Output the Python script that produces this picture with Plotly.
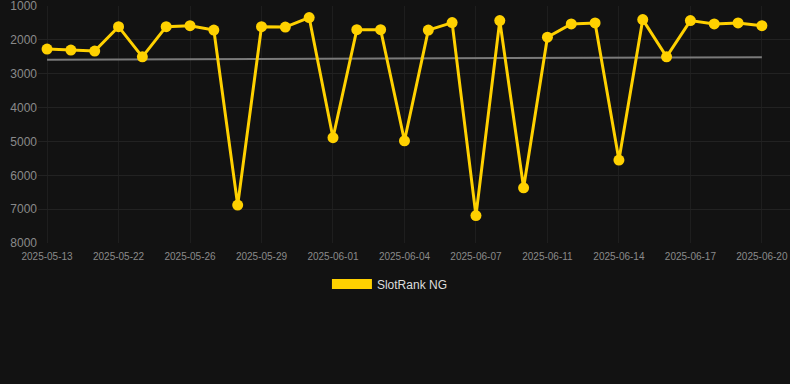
import plotly.graph_objects as go

dates = [
    "2025-05-13", "2025-05-16", "2025-05-19", "2025-05-22", "2025-05-23", "2025-05-24",
    "2025-05-26", "2025-05-27", "2025-05-28", "2025-05-29", "2025-05-30", "2025-05-31",
    "2025-06-01", "2025-06-02", "2025-06-03", "2025-06-04", "2025-06-05", "2025-06-06",
    "2025-06-07", "2025-06-09", "2025-06-10", "2025-06-11", "2025-06-12", "2025-06-13",
    "2025-06-14", "2025-06-15", "2025-06-16", "2025-06-17", "2025-06-18", "2025-06-19",
    "2025-06-20",
]
rank = [
    2270, 2300, 2330, 1610, 2500, 1610, 1580, 1710, 6880, 1610, 1620, 1340,
    4890, 1700, 1700, 4980, 1710, 1490, 7190, 1430, 6370, 1920, 1530, 1500,
    5550, 1400, 2500, 1430, 1530, 1500, 1580,
]
trend_x = [dates[0], dates[-1]]
trend_y = [2590, 2510]
tick_labels = dates[::3]
y_ticks = [1000, 2000, 3000, 4000, 5000, 6000, 7000, 8000]

gold = "#FFD100"
bg = "#121212"

fig = go.Figure()
fig.add_trace(go.Scatter(
    x=trend_x, y=trend_y, mode="lines",
    line=dict(color="#7a7a7a", width=2),
    showlegend=False, hoverinfo="skip",
))
fig.add_trace(go.Scatter(
    x=dates, y=rank, mode="lines+markers",
    line=dict(color=gold, width=3),
    marker=dict(color=gold, size=11),
    showlegend=False, name="SlotRank NG",
))
fig.add_trace(go.Scatter(
    x=[None], y=[None], mode="lines",
    line=dict(color=gold, width=10),
    name="SlotRank NG", showlegend=True,
))

fig.update_layout(
    width=790, height=384,
    paper_bgcolor=bg, plot_bgcolor=bg,
    margin=dict(l=38, r=0, t=6, b=141, autoexpand=False),
    font=dict(family="Liberation Sans, Arial, sans-serif", color="#8a8a8a"),
    xaxis=dict(
        type="category", categoryorder="array", categoryarray=dates,
        range=[-0.38, 31.18],
        tickmode="array", tickvals=tick_labels, ticktext=tick_labels,
        showgrid=True, gridcolor="#1e1e1e", gridwidth=1,
        zeroline=False, showline=False, ticks="",
        ticklabelstandoff=6,
        tickfont=dict(size=10, color="#8a8a8a"),
    ),
    yaxis=dict(
        range=[8000, 999], tickvals=y_ticks,
        showgrid=True, gridcolor="#222222", gridwidth=1,
        zeroline=False, showline=False, ticks="",
        ticklabeloverflow="allow",
        tickfont=dict(size=12, color="#8a8a8a"),
    ),
    legend=dict(
        orientation="h", x=0.468, xanchor="center", y=-0.173, yanchor="middle",
        itemwidth=40,
        font=dict(size=12, color="#dddddd"), bgcolor="rgba(0,0,0,0)",
    ),
)

fig.write_html(
    "out.html",
    config={"displayModeBar": False},
    post_script="document.body.style.margin='0';document.body.style.background='#121212';",
)
